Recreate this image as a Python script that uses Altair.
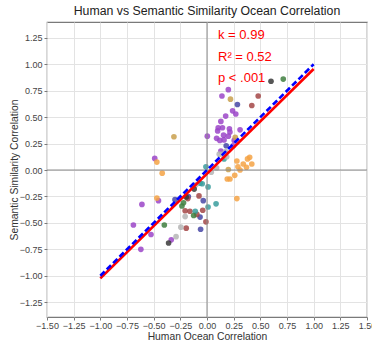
import altair as alt
import pandas as pd

# Per-group correlations: human ratings (x) vs semantic similarity (y)
purple_x = [0.20, 0.14, 0.24, 0.27, 0.175, 0.13, 0.105, 0.145, 0.21, 0.31, 0.215, 0.10, 0.155, 0.20,
            0.003, 0.09, 0.12, 0.16, 0.255, 0.245, 0.13, -0.49, -0.455, -0.61, -0.69, -0.525, -0.335, -0.62]
purple_y = [0.76, 0.70, 0.56, 0.53, 0.51, 0.46, 0.40, 0.40, 0.39, 0.38, 0.36, 0.37, 0.33, 0.32,
            0.32, 0.30, 0.28, 0.285, 0.28, 0.23, 0.18, 0.11, -0.29, -0.325, -0.52, -0.61, -0.66, -0.75]
orange_x = [-0.47, -0.42, -0.47, 0.28, 0.34, 0.40, 0.38, 0.42, 0.29, 0.37, 0.31, 0.26, 0.19, 0.215, 0.28]
orange_y = [0.075, -0.03, -0.265, 0.085, 0.057, 0.12, 0.105, 0.057, 0.03, 0.026, 0.0, -0.05, -0.085, -0.085, -0.27]
tan_x = [-0.31, 0.22, 0.265, 0.20]
tan_y = [0.315, 0.67, 0.31, 0.005]
navy_x = [0.285, 0.18, -0.30, -0.175, -0.035, -0.065, -0.06]
navy_y = [0.62, 0.23, -0.28, -0.25, -0.29, -0.445, -0.56]
red_x = [0.48, 0.42, -0.18, -0.075, -0.205, -0.16, -0.04, -0.095, -0.01, -0.195]
red_y = [0.70, 0.61, -0.27, -0.245, -0.385, -0.39, -0.38, -0.42, -0.49, -0.55]
teal_x = [0.16, -0.01, -0.065, -0.045, 0.01, 0.085, 0.01, -0.11]
teal_y = [0.104, 0.03, -0.125, -0.13, -0.16, -0.32, -0.35, -0.39]
gray_x = [0.175, 0.185, 0.15, 0.115, 0.04, 0.09, -0.105, -0.205, -0.245, -0.29]
gray_y = [0.175, 0.125, 0.15, 0.15, -0.02, 0.02, -0.14, -0.44, -0.54, -0.63]
green_x = [0.715, -0.22, -0.235, -0.125, -0.40]
green_y = [0.86, -0.31, -0.34, -0.43, -0.52]
black_x = [0.60, -0.12, -0.36, -0.195]
black_y = [0.84, -0.18, -0.69, -0.255]

group_data = [
    ("g1", "#9b45c8", purple_x, purple_y),
    ("g2", "#f4a345", orange_x, orange_y),
    ("g3", "#c9a04e", tan_x, tan_y),
    ("g4", "#4646a6", navy_x, navy_y),
    ("g5", "#a34646", red_x, red_y),
    ("g6", "#3a9d9d", teal_x, teal_y),
    ("g7", "#b5b5b5", gray_x, gray_y),
    ("g8", "#3f7f3f", green_x, green_y),
    ("g9", "#3a3a3a", black_x, black_y),
]

rows = []
for name, _, xs, ys in group_data:
    for a, b in zip(xs, ys):
        rows.append({"human": a, "semantic": b, "group": name})
points = pd.DataFrame(rows)

# Fit statistics
slope = 0.99
intercept = -0.035
stats_text = ["k = 0.99", "R² = 0.52", "p < .001"]

line_x = [-1.0, 1.0]
fit_df = pd.DataFrame({"human": line_x, "semantic": [slope * v + intercept for v in line_x]})
ident_df = pd.DataFrame({"human": line_x, "semantic": line_x})

x_ticks = [-1.5, -1.25, -1.0, -0.75, -0.5, -0.25, 0.0, 0.25, 0.5, 0.75, 1.0, 1.25, 1.5]
y_ticks = [-1.25, -1.0, -0.75, -0.5, -0.25, 0.0, 0.25, 0.5, 0.75, 1.0, 1.25]

x_scale = alt.Scale(domain=[-1.5, 1.5], nice=False, zero=False)
y_scale = alt.Scale(domain=[-1.39, 1.40], nice=False, zero=False)

x_axis = alt.Axis(values=x_ticks, format=".2f", labelOverlap=False, labelFlush=False)
y_axis = alt.Axis(values=y_ticks, format=".2f", labelOverlap=False, labelFlush=False)

x_enc = alt.X("human:Q", scale=x_scale, title="Human Ocean Correlation", axis=x_axis)
y_enc = alt.Y("semantic:Q", scale=y_scale, title="Semantic Similarity Correlation", axis=y_axis)

scatter = alt.Chart(points).mark_circle(size=32, opacity=0.85).encode(
    x=x_enc, y=y_enc,
    color=alt.Color("group:N", legend=None,
                    scale=alt.Scale(domain=[g[0] for g in group_data],
                                    range=[g[1] for g in group_data])),
)

# Reference lines through the origin
zero_v = alt.Chart(pd.DataFrame({"human": [0.0]})).mark_rule(color="#8a8a8a", strokeWidth=1).encode(
    x=x_enc)
zero_h = alt.Chart(pd.DataFrame({"semantic": [0.0]})).mark_rule(color="#8a8a8a", strokeWidth=1).encode(
    y=y_enc)

fit_line = alt.Chart(fit_df).mark_line(color="#ff0000", strokeWidth=2.6).encode(x=x_enc, y=y_enc)
ident_line = alt.Chart(ident_df).mark_line(color="#0000ff", strokeWidth=2.6,
                                           strokeDash=[6, 3]).encode(x=x_enc, y=y_enc)

texts = []
for i, t in enumerate(stats_text):
    texts.append(
        alt.Chart(pd.DataFrame({"t": [t]})).mark_text(
            align="left", baseline="middle", fontSize=13, color="#ff0000", font="Liberation Sans"
        ).encode(x=alt.value(171), y=alt.value(13 + 21.5 * i), text="t:N")
    )

chart = alt.layer(scatter, zero_v, zero_h, fit_line, ident_line, *texts).properties(
    width=320,
    height=295,
    title="Human vs Semantic Similarity Ocean Correlation",
    autosize=alt.AutoSizeParams(type="none"),
    padding={"left": 47, "top": 22, "right": 5, "bottom": 24},
).configure_view(
    stroke="#7a7a7a", strokeWidth=1.2
).configure_axis(
    domain=False,
    grid=True,
    gridColor="#e3e3e3",
    gridWidth=1,
    tickColor="#7a7a7a",
    tickSize=3,
    labelOverlap=False,
    labelFlush=False,
    labelFont="Liberation Sans",
    labelFontSize=9,
    labelColor="#444444",
    titleFont="Liberation Sans",
    titleFontSize=10.3,
    titleFontWeight="normal",
    titleColor="#333333",
    labelPadding=2,
).configure_axisX(
    titlePadding=1,
    labelPadding=1,
).configure_axisY(
    titlePadding=0,
).configure_title(
    font="Liberation Sans",
    fontSize=12.3,
    fontWeight="normal",
    color="#222222",
    offset=4,
)

chart.save("out.html", embed_options={"renderer": "svg", "actions": False})
